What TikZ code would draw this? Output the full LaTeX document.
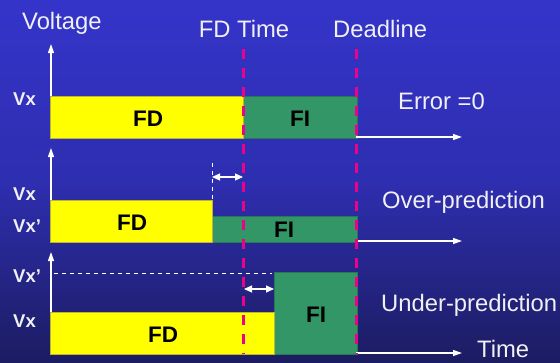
\documentclass[tikz,border=0pt]{standalone}
\usepackage{fontspec}
\setmainfont{Liberation Sans}
\usetikzlibrary{arrows.meta}
\definecolor{bgtop}{RGB}{52,52,202}
\definecolor{bgmid}{RGB}{46,46,176}
\definecolor{bgbot}{RGB}{28,28,98}
\definecolor{fdyellow}{RGB}{255,255,0}
\definecolor{figreen}{RGB}{51,150,102}
\definecolor{txt}{RGB}{240,240,245}
\tikzset{
  lbl/.style={text=txt, font=\fontsize{23.8}{28}\selectfont, inner sep=0pt, anchor=base west},
  vlbl/.style={text=txt, font=\fontsize{18.5}{22}\selectfont\bfseries, inner sep=0pt, anchor=base west},
  blk/.style={text=black, font=\fontsize{22.5}{26}\selectfont\bfseries, inner sep=0pt, anchor=base},
  axis/.style={draw=white, line width=1.2pt, -{Triangle[length=9pt,width=6pt]}},
  marker/.style={draw=magenta, line width=3pt, dash pattern=on 10pt off 9pt},
  gap/.style={draw=white, line width=1.2pt, {Triangle[length=8pt,width=7pt]}-{Triangle[length=8pt,width=7pt]}},
  guide/.style={draw=white, line width=0.7pt, dash pattern=on 4pt off 4pt},
  fdbox/.style={fill=fdyellow, draw=yellow!70!black, line width=0.5pt},
  fibox/.style={fill=figreen, draw=figreen!80!black, line width=0.5pt}
}
\begin{document}
\begin{tikzpicture}[x=1pt,y=-1pt]
  % background
  \shade[top color=bgtop, bottom color=bgbot, middle color=bgmid] (0,0) rectangle (560,362);
  \useasboundingbox (0,0) rectangle (560,362);

  % headings
  \node[lbl] (volt) at (22,29) {Voltage};
  \node[lbl, anchor=base] (fdt) at (244,37) {FD Time};
  \node[lbl] (dl) at (333,37) {Deadline};

  % axis end points
  \coordinate (a1b) at (51,138); \coordinate (a1t) at (51,44);
  \coordinate (a2b) at (51,242); \coordinate (a2t) at (51,148);
  \coordinate (a3b) at (51,346); \coordinate (a3t) at (51,252);
  \coordinate (t1s) at (356,137); \coordinate (t1e) at (462,137);
  \coordinate (t2s) at (356,241); \coordinate (t2e) at (462,241);
  \coordinate (t3s) at (356,353); \coordinate (t3e) at (462,353);

  % voltage axes
  \draw[axis] (a1b) -- (a1t);
  \draw[axis] (a2b) -- (a2t);
  \draw[axis] (a3b) -- (a3t);

  % panel 1: error = 0
  \fill[fibox] (243,96) rectangle (357,138);
  \fill[fdbox] (50,96) rectangle (243,138);
  \node[blk] (fd1) at (148,126) {FD};
  \node[blk] (fi1) at (300,126) {FI};
  \node[vlbl] (vx1) at (13,105) {Vx};
  \node[lbl] (err) at (398,109) {Error =0};

  % panel 2: over-prediction
  \fill[fibox] (210,216) rectangle (357,242);
  \fill[fdbox] (50,200) rectangle (212,242);
  \node[blk] (fd2) at (132,230) {FD};
  \node[blk] (fi2) at (284,237) {FI};
  \node[vlbl] (vx2) at (13,200) {Vx};
  \node[vlbl] (vx2p) at (13,232) {Vx'};
  \node[lbl] (over) at (382,208) {Over-prediction};
  \coordinate (g2a) at (212,163); \coordinate (g2b) at (212,200);
  \draw[guide] (g2a) -- (g2b);
  \coordinate (d2l) at (212,177); \coordinate (d2r) at (243,177);
  \draw[gap] (d2l) -- (d2r);

  % panel 3: under-prediction
  \fill[fibox] (274,272) rectangle (357,354);
  \fill[fdbox] (50,312) rectangle (274,354);
  \node[blk] (fd3) at (163,342) {FD};
  \node[blk] (fi3) at (316,322) {FI};
  \node[vlbl] (vx3p) at (13,282) {Vx'};
  \node[vlbl] (vx3) at (13,327) {Vx};
  \node[lbl] (under) at (381,311) {Under-prediction};
  \node[lbl] (time) at (477,357) {Time};
  \coordinate (h3a) at (54,273); \coordinate (h3b) at (272,273);
  \draw[guide] (h3a) -- (h3b);
  \coordinate (d3l) at (244,289); \coordinate (d3r) at (274,289);
  \draw[gap] (d3l) -- (d3r);

  % time axes
  \draw[axis] (t1s) -- (t1e);
  \draw[axis] (t2s) -- (t2e);
  \draw[axis] (t3s) -- (t3e);

  % FD time and deadline markers
  \coordinate (m1t) at (243,49); \coordinate (m1b) at (243,354);
  \coordinate (m2t) at (356,49); \coordinate (m2b) at (356,354);
  \draw[marker] (m1t) -- (m1b);
  \draw[marker] (m2t) -- (m2b);
\end{tikzpicture}
\end{document}
